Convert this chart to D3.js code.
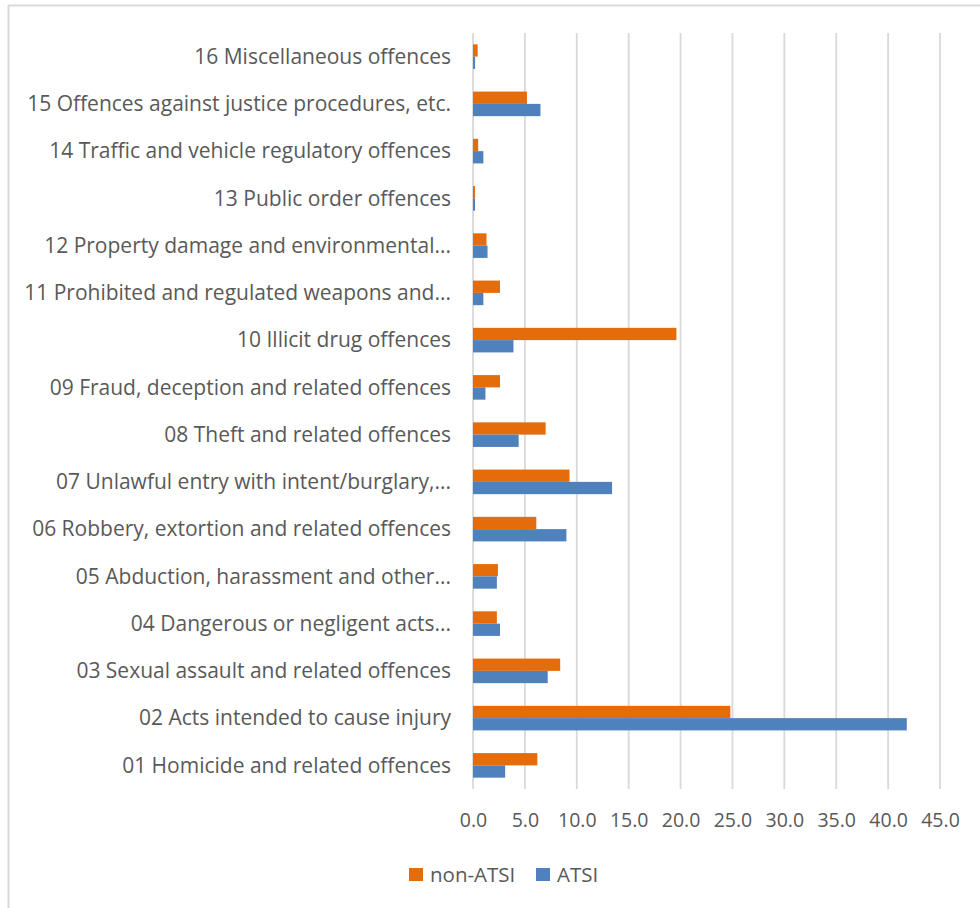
<!DOCTYPE html>
<html>
<head>
<meta charset="utf-8">
<script src="https://cdn.jsdelivr.net/npm/d3@7"></script>
<style>
  html, body { margin: 0; padding: 0; background: #fff; }
  svg { display: block; }
</style>
</head>
<body>
<svg id="chart" width="980" height="908"></svg>
<script>
// Offence divisions, listed top to bottom as drawn
const categories = [
  "16 Miscellaneous offences",
  "15 Offences against justice procedures, etc.",
  "14 Traffic and vehicle regulatory offences",
  "13 Public order offences",
  "12 Property damage and environmental...",
  "11 Prohibited and regulated weapons and...",
  "10 Illicit drug offences",
  "09 Fraud, deception and related offences",
  "08 Theft and related offences",
  "07 Unlawful entry with intent/burglary,...",
  "06 Robbery, extortion and related offences",
  "05 Abduction, harassment and other...",
  "04 Dangerous or negligent acts...",
  "03 Sexual assault and related offences",
  "02 Acts intended to cause injury",
  "01 Homicide and related offences"
];
const nonAtsi = [0.45, 5.2, 0.5, 0.2, 1.3, 2.6, 19.6, 2.6, 7.0, 9.3, 6.1, 2.4, 2.3, 8.4, 24.8, 6.2];
const atsi    = [0.2, 6.5, 1.0, 0.2, 1.4, 1.0, 3.9, 1.2, 4.4, 13.4, 9.0, 2.3, 2.6, 7.2, 41.8, 3.1];
const seriesNames = ["non-ATSI", "ATSI"];
const seriesColors = ["#E46C0A", "#4F81BD"];
const xTicks = [0, 5, 10, 15, 20, 25, 30, 35, 40, 45];

const svg = d3.select("#chart");
const font = "'Open Sans', Lato, sans-serif";
const textColor = "#595959";

// Frame lines
svg.append("line").attr("x1", 8).attr("x2", 980).attr("y1", 5.5).attr("y2", 5.5)
  .attr("stroke", "#d9d9d9").attr("stroke-width", 2);
svg.append("line").attr("x1", 8.5).attr("x2", 8.5).attr("y1", 5).attr("y2", 908)
  .attr("stroke", "#d9d9d9").attr("stroke-width", 2);

const plot = { left: 473, right: 940, top: 33, bottom: 789 };

const x = d3.scaleLinear().domain([0, 45]).range([plot.left, plot.right]);
const y = d3.scaleBand().domain(categories).range([plot.top, plot.bottom]).paddingInner(0.48).paddingOuter(0.24);
const sub = d3.scaleBand().domain(seriesNames).range([0, y.bandwidth()]);

// Vertical gridlines
svg.append("g").selectAll("line").data(xTicks).join("line")
  .attr("x1", d => x(d)).attr("x2", d => x(d))
  .attr("y1", plot.top).attr("y2", plot.bottom)
  .attr("stroke", "#d9d9d9").attr("stroke-width", 1.8);

// Bars
const rows = categories.map((c, i) => ({ cat: c, vals: [nonAtsi[i], atsi[i]] }));
const groups = svg.append("g").selectAll("g").data(rows).join("g")
  .attr("transform", d => `translate(0,${y(d.cat)})`);
groups.selectAll("rect").data(d => d.vals.map((v, j) => ({ v, name: seriesNames[j], color: seriesColors[j] })))
  .join("rect")
  .attr("x", x(0))
  .attr("y", d => sub(d.name))
  .attr("width", d => x(d.v) - x(0))
  .attr("height", sub.bandwidth())
  .attr("fill", d => d.color);

// Category axis (labels only)
const yAxis = svg.append("g").attr("transform", `translate(${plot.left - 22},0)`)
  .call(d3.axisLeft(y).tickSize(0).tickPadding(0));
yAxis.select(".domain").remove();
yAxis.selectAll("text").attr("font-family", font).attr("font-size", 21)
  .attr("fill", textColor).attr("dy", "0.35em");

// Value axis
const xAxis = svg.append("g").attr("transform", `translate(0,${plot.bottom})`)
  .call(d3.axisBottom(x).tickValues(xTicks).tickFormat(d3.format(".1f")).tickSize(0).tickPadding(24));
xAxis.select(".domain").remove();
xAxis.selectAll("text").attr("font-family", font).attr("font-size", 19.5).attr("fill", textColor);

// Legend
const legend = svg.append("g");
const legendItems = [{ x: 409, name: seriesNames[0], color: seriesColors[0] },
                     { x: 536, name: seriesNames[1], color: seriesColors[1] }];
legendItems.forEach(it => {
  legend.append("rect").attr("x", it.x).attr("y", 868).attr("width", 14).attr("height", 13).attr("fill", it.color);
  legend.append("text").attr("x", it.x + 21).attr("y", 874.5).attr("dy", "0.35em")
    .attr("font-family", font).attr("font-size", 20.5).attr("fill", textColor).text(it.name);
});
</script>
</body>
</html>
